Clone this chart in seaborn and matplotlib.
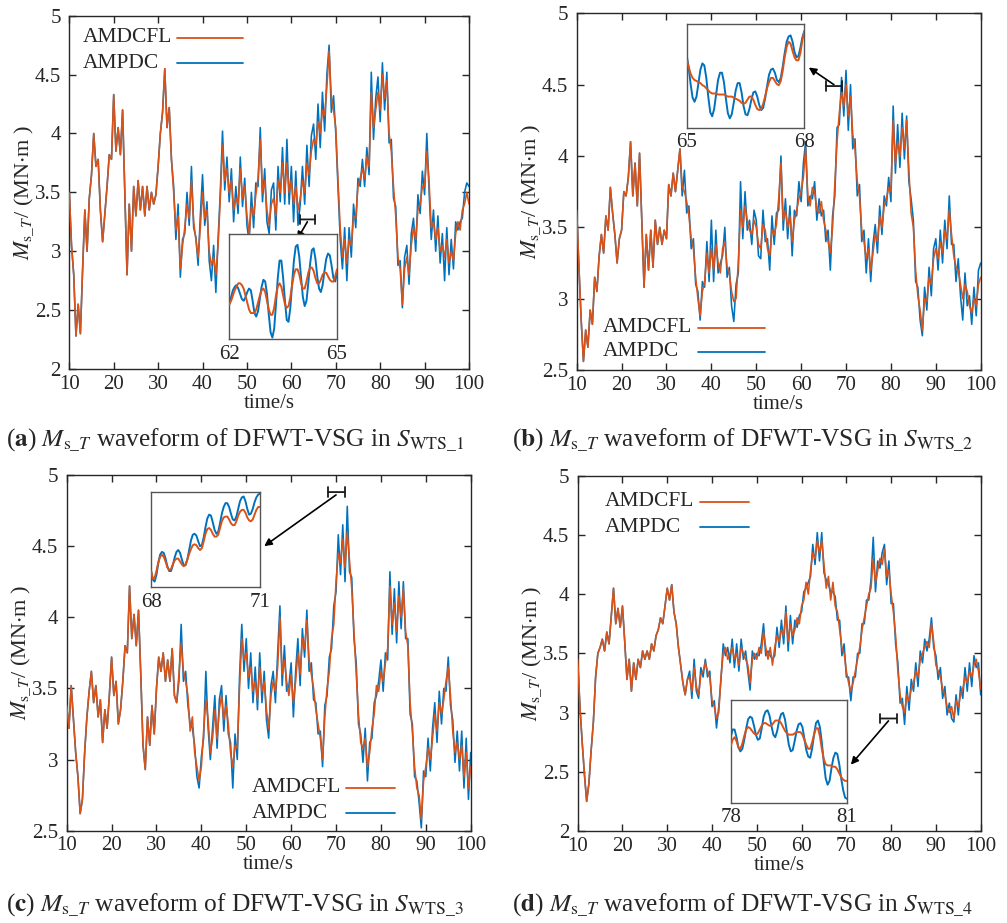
import numpy as np
import matplotlib
matplotlib.use("Agg")
import matplotlib.pyplot as plt
from matplotlib.lines import Line2D
import seaborn as sns
from matplotlib.ticker import FuncFormatter

# ---------------- data ----------------
time = np.arange(10.0, 100.01, 0.5)

a_amdcfl = [3.50, 3.05, 2.80, 2.28, 2.55, 2.30, 2.85, 3.35, 3.00, 3.45,
            3.65, 4.00, 3.72, 3.78, 3.35, 3.08, 3.32, 3.55, 3.82, 3.78,
            4.33, 3.85, 4.05, 3.82, 4.20, 3.50, 2.80, 3.40, 3.00, 3.55,
            3.30, 3.60, 3.35, 3.55, 3.30, 3.55, 3.35, 3.50, 3.40, 3.48,
            3.72, 4.00, 4.18, 4.55, 4.05, 4.22, 3.78, 3.50, 3.18, 3.30,
            2.85, 3.05, 3.20, 3.40, 3.28, 3.60, 3.25, 3.10, 2.95, 3.20,
            3.50, 3.28, 3.35, 3.00, 2.88, 2.95, 2.80, 3.05, 3.45, 3.90,
            3.60, 3.70, 3.50, 3.60, 3.35, 3.45, 3.40, 3.70, 3.45, 3.55,
            3.30, 3.15, 3.38, 3.30, 3.48, 3.62, 3.95, 3.50, 3.60, 3.35,
            3.22, 3.40, 3.45, 3.30, 3.60, 3.50, 3.75, 3.50, 3.75, 3.50,
            3.60, 3.40, 3.55, 3.35, 3.45, 3.60, 3.50, 3.75, 3.65, 3.85,
            3.95, 3.90, 4.10, 4.00, 4.20, 4.15, 4.40, 4.70, 4.30, 4.20,
            4.05, 3.60, 3.20, 2.95, 3.10, 2.90, 3.10, 3.05, 3.30, 3.28,
            3.55, 3.62, 3.70, 3.62, 3.80, 3.72, 4.35, 4.05, 4.20, 4.35,
            4.20, 4.50, 4.30, 4.45, 4.00, 3.85, 3.55, 3.30, 2.95, 2.85,
            2.55, 2.85, 2.95, 2.80, 3.05, 3.20, 3.10, 3.35, 3.40, 3.55,
            3.55, 3.85, 3.60, 3.20, 3.25, 3.10, 3.20, 3.00, 3.05, 2.95,
            3.10, 2.90, 3.00, 2.92, 3.15, 3.25, 3.18, 3.35, 3.40, 3.50,
            3.40]
a_ampdc = [3.50, 3.05, 2.80, 2.28, 2.55, 2.30, 2.85, 3.35, 3.00, 3.45,
           3.65, 4.00, 3.72, 3.78, 3.35, 3.08, 3.32, 3.55, 3.82, 3.78,
           4.33, 3.85, 4.05, 3.82, 4.20, 3.50, 2.80, 3.40, 3.00, 3.55,
           3.30, 3.60, 3.35, 3.55, 3.30, 3.55, 3.35, 3.50, 3.40, 3.48,
           3.72, 4.00, 4.18, 4.55, 4.05, 4.22, 3.78, 3.55, 3.10, 3.40,
           2.78, 3.10, 3.15, 3.50, 3.22, 3.72, 3.20, 3.12, 2.88, 3.30,
           3.65, 3.22, 3.42, 2.92, 2.75, 3.05, 2.65, 3.10, 3.50, 4.02,
           3.52, 3.80, 3.42, 3.70, 3.25, 3.55, 3.32, 3.80, 3.38, 3.62,
           3.22, 3.08, 3.50, 3.20, 3.58, 3.55, 4.05, 3.42, 3.70, 3.25,
           3.15, 3.52, 3.58, 3.18, 3.72, 3.42, 3.88, 3.40, 3.95, 3.40,
           3.72, 3.25, 3.68, 3.22, 3.40, 3.72, 3.40, 3.90, 3.55, 3.98,
           4.08, 3.78, 4.25, 3.88, 4.35, 4.02, 4.50, 4.75, 4.18, 4.32,
           4.00, 3.55, 3.10, 2.85, 3.20, 2.75, 3.20, 2.95, 3.40, 3.20,
           3.62, 3.55, 3.78, 3.55, 3.88, 3.65, 4.52, 3.95, 4.30, 4.48,
           4.10, 4.60, 4.20, 4.52, 3.92, 3.95, 3.45, 3.38, 2.88, 2.92,
           2.52, 2.95, 3.05, 2.72, 3.15, 3.28, 3.00, 3.48, 3.32, 3.68,
           3.48, 4.00, 3.52, 3.10, 3.35, 3.00, 3.30, 2.90, 3.15, 2.75,
           3.20, 2.80, 3.10, 2.85, 3.25, 3.18, 3.25, 3.28, 3.50, 3.58,
           3.55]

b_amdcfl = [3.62, 3.22, 2.85, 2.56, 2.78, 2.66, 2.92, 2.82, 3.15, 3.05,
            3.30, 3.45, 3.32, 3.58, 3.48, 3.78, 3.60, 3.45, 3.25, 3.42,
            3.48, 3.75, 3.72, 3.85, 4.10, 3.72, 3.95, 3.65, 4.02, 3.55,
            3.08, 3.45, 3.20, 3.48, 3.22, 3.55, 3.38, 3.50, 3.38, 3.48,
            3.42, 3.80, 3.72, 3.88, 3.75, 3.90, 4.05, 3.78, 3.75, 3.68,
            3.58, 3.42, 3.35, 3.15, 3.00, 2.88, 3.05, 3.12, 3.32, 3.18,
            3.35, 3.20, 3.38, 3.25, 3.18, 3.35, 3.40, 3.22, 3.18, 3.05,
            2.98, 3.00, 3.25, 3.62, 3.50, 3.65, 3.55, 3.48, 3.45, 3.55,
            3.50, 3.38, 3.35, 3.52, 3.48, 3.35, 3.30, 3.48, 3.45, 3.52,
            3.70, 3.95, 3.55, 3.62, 3.50, 3.58, 3.40, 3.55, 3.62, 3.70,
            3.75, 3.85, 4.05, 3.72, 3.65, 3.78, 3.75, 3.62, 3.60, 3.68,
            3.55, 3.48, 3.40, 3.32, 3.50, 3.80, 4.10, 4.30, 4.45, 4.35,
            4.50, 4.28, 4.42, 4.15, 4.05, 3.82, 3.72, 3.48, 3.40, 3.28,
            3.35, 3.20, 3.32, 3.45, 3.40, 3.58, 3.50, 3.65, 3.70, 3.78,
            3.75, 4.25, 3.95, 4.10, 4.00, 4.20, 4.05, 4.25, 3.90, 3.60,
            3.50, 3.20, 3.02, 2.92, 2.78, 3.00, 2.98, 3.15, 3.10, 3.28,
            3.35, 3.28, 3.40, 3.32, 3.48, 3.42, 3.62, 3.45, 3.30, 3.22,
            3.20, 3.10, 3.00, 3.10, 3.05, 2.95, 2.90, 3.00, 2.95, 3.10,
            3.15]
b_ampdc = [3.62, 3.22, 2.85, 2.56, 2.78, 2.66, 2.92, 2.82, 3.15, 3.05,
           3.30, 3.45, 3.32, 3.58, 3.48, 3.78, 3.60, 3.45, 3.25, 3.42,
           3.48, 3.75, 3.72, 3.85, 4.10, 3.72, 3.95, 3.65, 4.02, 3.55,
           3.08, 3.45, 3.20, 3.48, 3.22, 3.55, 3.38, 3.50, 3.38, 3.48,
           3.42, 3.80, 3.72, 3.88, 3.75, 3.90, 4.05, 3.72, 3.90, 3.60,
           3.65, 3.35, 3.42, 3.10, 3.05, 2.85, 3.12, 3.08, 3.40, 3.12,
           3.55, 3.12, 3.48, 3.18, 3.25, 3.30, 3.50, 3.15, 3.22, 2.95,
           2.84, 3.10, 3.18, 3.82, 3.42, 3.75, 3.48, 3.55, 3.38, 3.62,
           3.55, 3.30, 3.28, 3.62, 3.40, 3.42, 3.20, 3.58, 3.38, 3.60,
           3.62, 4.00, 3.48, 3.70, 3.42, 3.65, 3.30, 3.62, 3.58, 3.82,
           3.68, 3.95, 4.10, 3.65, 3.72, 3.70, 3.82, 3.55, 3.70, 3.58,
           3.62, 3.40, 3.48, 3.20, 3.58, 3.72, 4.20, 4.22, 4.55, 4.28,
           4.60, 4.18, 4.50, 4.05, 4.12, 3.72, 3.80, 3.40, 3.48, 3.18,
           3.42, 3.12, 3.38, 3.52, 3.32, 3.65, 3.45, 3.72, 3.65, 3.85,
           3.68, 4.35, 3.88, 4.22, 3.92, 4.30, 3.98, 4.28, 3.82, 3.70,
           3.55, 3.12, 3.08, 2.85, 2.74, 3.08, 2.92, 3.22, 3.02, 3.35,
           3.42, 3.20, 3.48, 3.25, 3.55, 3.35, 3.72, 3.38, 3.38, 3.12,
           3.28, 3.02, 2.85, 3.18, 2.95, 3.02, 2.82, 3.08, 2.88, 3.20,
           3.25]

c_amdcfl = [3.38, 3.22, 3.52, 3.28, 3.05, 2.88, 2.62, 2.72, 3.05, 3.30,
            3.48, 3.62, 3.40, 3.52, 3.30, 3.42, 3.12, 3.35, 3.22, 3.45,
            3.72, 3.45, 3.55, 3.25, 3.35, 3.55, 3.80, 3.75, 4.22, 3.85,
            4.02, 3.80, 4.05, 3.60, 3.10, 2.93, 3.30, 3.10, 3.38, 3.18,
            3.50, 3.72, 3.62, 3.75, 3.55, 3.70, 3.55, 3.78, 3.45, 3.40,
            3.60, 3.82, 3.62, 3.55, 3.45, 3.20, 3.30, 3.05, 2.95, 2.85,
            2.95, 3.20, 3.42, 3.28, 3.05, 3.15, 3.35, 3.15, 3.35, 3.45,
            3.28, 3.38, 3.25, 3.05, 2.95, 3.10, 3.08, 3.50, 3.85, 3.70,
            3.75, 3.58, 3.65, 3.48, 3.55, 3.42, 3.65, 3.48, 3.55, 3.35,
            3.22, 3.45, 3.55, 3.48, 3.65, 4.00, 3.60, 3.70, 3.55, 3.45,
            3.60, 3.40, 3.55, 3.75, 3.60, 3.85, 3.78, 3.98, 3.70, 3.60,
            3.50, 3.35, 3.25, 3.15, 3.00, 3.30, 3.50, 3.62, 3.85, 3.95,
            4.25, 4.45, 4.38, 4.55, 4.35, 4.60, 4.40, 4.20, 3.90, 3.60,
            3.32, 3.12, 3.08, 3.15, 2.95, 3.05, 3.22, 3.32, 3.52, 3.48,
            3.62, 3.55, 3.68, 3.78, 4.22, 3.95, 4.10, 3.90, 4.15, 4.00,
            4.20, 3.90, 3.80, 3.40, 3.20, 2.95, 2.80, 2.75, 2.58, 2.85,
            2.95, 3.08, 3.00, 3.15, 3.32, 3.20, 3.40, 3.32, 3.42, 3.55,
            3.65, 3.45, 3.20, 3.05, 3.12, 3.00, 3.10, 2.88, 3.05, 2.80,
            2.95]
c_ampdc = [3.38, 3.22, 3.52, 3.28, 3.05, 2.88, 2.62, 2.72, 3.05, 3.30,
           3.48, 3.62, 3.40, 3.52, 3.30, 3.42, 3.12, 3.35, 3.22, 3.45,
           3.72, 3.45, 3.55, 3.25, 3.35, 3.55, 3.80, 3.75, 4.22, 3.85,
           4.02, 3.80, 4.05, 3.60, 3.10, 2.93, 3.30, 3.10, 3.38, 3.18,
           3.50, 3.72, 3.62, 3.75, 3.55, 3.70, 3.55, 3.78, 3.45, 3.40,
           3.55, 3.95, 3.55, 3.62, 3.38, 3.25, 3.22, 3.10, 2.88, 2.80,
           3.02, 3.15, 3.62, 3.22, 3.00, 3.22, 3.45, 3.08, 3.42, 3.52,
           3.20, 3.45, 3.18, 3.12, 2.80, 3.18, 3.00, 3.58, 3.95, 3.62,
           3.85, 3.50, 3.75, 3.40, 3.65, 3.35, 3.75, 3.40, 3.62, 3.28,
           3.15, 3.52, 3.62, 3.40, 3.75, 4.08, 3.52, 3.80, 3.48, 3.52,
           3.68, 3.30, 3.62, 3.85, 3.52, 3.92, 3.72, 4.05, 3.62, 3.68,
           3.42, 3.40, 3.18, 3.20, 2.95, 3.38, 3.45, 3.72, 3.78, 4.08,
           4.18, 4.58, 4.30, 4.65, 4.25, 4.78, 4.32, 4.28, 3.85, 3.68,
           3.25, 3.18, 2.98, 3.22, 2.85, 3.12, 3.15, 3.40, 3.45, 3.55,
           3.70, 3.48, 3.75, 3.70, 4.32, 3.88, 4.20, 3.82, 4.25, 3.92,
           4.25, 3.85, 3.85, 3.32, 3.25, 2.88, 2.85, 2.70, 2.52, 2.92,
           2.88, 3.15, 2.92, 3.22, 3.40, 3.12, 3.48, 3.25, 3.50, 3.48,
           3.72, 3.38, 3.28, 2.98, 3.20, 2.92, 3.20, 2.80, 3.15, 2.72,
           3.05]

d_amdcfl = [3.45, 3.05, 2.75, 2.48, 2.25, 2.40, 2.68, 2.92, 3.30, 3.50,
            3.55, 3.62, 3.52, 3.68, 3.58, 3.82, 4.05, 3.75, 3.88, 3.72,
            3.90, 3.60, 3.28, 3.45, 3.18, 3.42, 3.28, 3.45, 3.38, 3.52,
            3.45, 3.52, 3.45, 3.58, 3.52, 3.65, 3.70, 3.80, 3.75, 3.90,
            4.05, 3.95, 4.08, 3.85, 3.75, 3.55, 3.40, 3.25, 3.15, 3.28,
            3.30, 3.18, 3.38, 3.22, 3.15, 3.32, 3.35, 3.42, 3.35, 3.30,
            3.10, 3.05, 2.95, 3.00, 3.30, 3.50, 3.55, 3.45, 3.50, 3.55,
            3.45, 3.50, 3.40, 3.55, 3.50, 3.45, 3.40, 3.25, 3.45, 3.50,
            3.45, 3.55, 3.50, 3.68, 3.55, 3.45, 3.55, 3.40, 3.55, 3.65,
            3.60, 3.70, 3.65, 3.85, 3.60, 3.75, 3.65, 3.70, 3.80, 3.75,
            3.90, 3.95, 4.10, 4.00, 4.20, 4.35, 4.30, 4.45, 4.35, 4.45,
            4.25, 4.05, 4.15, 3.95, 4.10, 3.90, 3.85, 3.70, 3.55, 3.50,
            3.35, 3.25, 3.18, 3.25, 3.35, 3.45, 3.55, 3.70, 3.80, 3.90,
            4.00, 4.05, 4.30, 4.10, 4.20, 4.30, 4.25, 4.38, 4.15, 4.20,
            4.00, 3.85, 3.65, 3.35, 3.15, 3.05, 3.00, 3.15, 3.10, 3.20,
            3.25, 3.35, 3.30, 3.45, 3.50, 3.55, 3.60, 3.55, 3.75, 3.60,
            3.40, 3.35, 3.30, 3.20, 3.15, 3.05, 3.00, 3.05, 2.95, 3.10,
            3.05, 3.15, 3.20, 3.30, 3.25, 3.35, 3.30, 3.40, 3.45, 3.35,
            3.20]
d_ampdc = [3.45, 3.05, 2.75, 2.48, 2.25, 2.40, 2.68, 2.92, 3.30, 3.50,
           3.55, 3.62, 3.52, 3.68, 3.58, 3.82, 4.05, 3.75, 3.88, 3.72,
           3.90, 3.60, 3.28, 3.45, 3.18, 3.42, 3.28, 3.45, 3.38, 3.52,
           3.45, 3.52, 3.45, 3.58, 3.52, 3.65, 3.70, 3.80, 3.75, 3.90,
           4.05, 3.95, 4.08, 3.85, 3.75, 3.55, 3.40, 3.25, 3.15, 3.28,
           3.35, 3.12, 3.45, 3.18, 3.12, 3.38, 3.30, 3.45, 3.30, 3.35,
           3.05, 3.10, 2.87, 3.05, 3.28, 3.58, 3.48, 3.55, 3.42, 3.62,
           3.38, 3.58, 3.35, 3.62, 3.45, 3.52, 3.35, 3.19, 3.52, 3.45,
           3.50, 3.48, 3.58, 3.75, 3.48, 3.52, 3.48, 3.45, 3.48, 3.72,
           3.55, 3.78, 3.58, 3.90, 3.52, 3.82, 3.58, 3.78, 3.72, 3.82,
           3.85, 4.02, 4.05, 4.10, 4.15, 4.42, 4.25, 4.52, 4.28, 4.52,
           4.18, 4.12, 4.08, 4.02, 4.02, 3.98, 3.78, 3.78, 3.48, 3.58,
           3.30, 3.30, 3.10, 3.30, 3.30, 3.50, 3.50, 3.75, 3.75, 3.95,
           3.95, 4.12, 4.48, 4.02, 4.28, 4.22, 4.35, 4.42, 4.08, 4.28,
           3.92, 3.92, 3.58, 3.42, 3.08, 3.12, 2.90, 3.22, 3.02, 3.28,
           3.18, 3.42, 3.22, 3.52, 3.42, 3.62, 3.52, 3.62, 3.80, 3.55,
           3.48, 3.28, 3.38, 3.12, 3.22, 2.98, 3.08, 2.95, 2.92, 3.15,
           2.98, 3.22, 3.12, 3.38, 3.18, 3.42, 3.22, 3.48, 3.38, 3.42,
           3.15]

# zoomed windows (0.05 s resolution)
a_zoom_t = np.round(np.arange(62.0, 65.001, 0.05), 2)
a_zoom_amdcfl = [3.40, 3.42, 3.45, 3.48, 3.50, 3.52, 3.52, 3.51, 3.49, 3.45,
                 3.41, 3.37, 3.35, 3.35, 3.35, 3.37, 3.41, 3.45, 3.48, 3.49,
                 3.47, 3.42, 3.37, 3.34, 3.34, 3.38, 3.45, 3.50, 3.52, 3.50,
                 3.45, 3.40, 3.38, 3.39, 3.44, 3.51, 3.57, 3.60, 3.60, 3.57,
                 3.52, 3.49, 3.49, 3.53, 3.58, 3.61, 3.61, 3.59, 3.55, 3.52,
                 3.52, 3.54, 3.57, 3.58, 3.58, 3.56, 3.54, 3.53, 3.53, 3.56,
                 3.60]
a_zoom_ampdc = [3.40, 3.44, 3.48, 3.50, 3.51, 3.49, 3.46, 3.43, 3.42, 3.44,
                3.47, 3.49, 3.48, 3.42, 3.35, 3.33, 3.36, 3.43, 3.50, 3.54,
                3.53, 3.46, 3.34, 3.24, 3.21, 3.26, 3.40, 3.55, 3.65, 3.65,
                3.55, 3.42, 3.31, 3.30, 3.38, 3.52, 3.65, 3.73, 3.74, 3.67,
                3.55, 3.44, 3.39, 3.42, 3.52, 3.63, 3.71, 3.72, 3.66, 3.56,
                3.49, 3.47, 3.51, 3.59, 3.66, 3.69, 3.68, 3.62, 3.55, 3.53,
                3.58]

b_zoom_t = np.round(np.arange(65.0, 68.001, 0.05), 2)
b_zoom_amdcfl = [4.05, 3.99, 3.92, 3.88, 3.86, 3.85, 3.84, 3.83, 3.81, 3.80,
                 3.78, 3.76, 3.74, 3.73, 3.73, 3.73, 3.72, 3.72, 3.72, 3.72,
                 3.71, 3.70, 3.70, 3.70, 3.69, 3.68, 3.67, 3.66, 3.64, 3.63,
                 3.64, 3.67, 3.70, 3.70, 3.67, 3.62, 3.58, 3.57, 3.58, 3.63,
                 3.70, 3.78, 3.84, 3.88, 3.88, 3.85, 3.82, 3.81, 3.85, 3.95,
                 4.08, 4.18, 4.23, 4.21, 4.14, 4.08, 4.05, 4.05, 4.12, 4.24,
                 4.33]
b_zoom_ampdc = [4.10, 3.98, 3.82, 3.69, 3.65, 3.70, 3.83, 3.96, 4.02, 4.00,
                3.88, 3.70, 3.55, 3.51, 3.58, 3.72, 3.86, 3.93, 3.93, 3.84,
                3.68, 3.54, 3.49, 3.53, 3.64, 3.76, 3.83, 3.83, 3.74, 3.61,
                3.53, 3.52, 3.58, 3.67, 3.74, 3.75, 3.70, 3.62, 3.57, 3.59,
                3.68, 3.80, 3.91, 3.96, 3.97, 3.93, 3.86, 3.84, 3.88, 3.99,
                4.12, 4.23, 4.28, 4.29, 4.23, 4.13, 4.08, 4.09, 4.17, 4.27,
                4.33]

c_zoom_t = np.round(np.arange(68.0, 71.001, 0.05), 2)
c_zoom_amdcfl = [3.97, 3.89, 3.90, 3.97, 4.06, 4.12, 4.14, 4.12, 4.07, 4.01,
                 3.98, 3.99, 4.04, 4.08, 4.10, 4.10, 4.07, 4.04, 4.02, 4.04,
                 4.09, 4.15, 4.20, 4.24, 4.25, 4.24, 4.21, 4.19, 4.21, 4.28,
                 4.36, 4.41, 4.42, 4.40, 4.36, 4.33, 4.33, 4.35, 4.42, 4.49,
                 4.53, 4.54, 4.54, 4.51, 4.47, 4.45, 4.45, 4.49, 4.55, 4.59,
                 4.61, 4.61, 4.58, 4.53, 4.50, 4.49, 4.51, 4.56, 4.61, 4.64,
                 4.64]
c_zoom_ampdc = [3.98, 3.88, 3.86, 3.93, 4.05, 4.14, 4.17, 4.16, 4.10, 4.02,
                3.97, 3.97, 4.03, 4.11, 4.17, 4.19, 4.16, 4.09, 4.03, 4.03,
                4.09, 4.19, 4.29, 4.35, 4.36, 4.34, 4.28, 4.23, 4.24, 4.32,
                4.43, 4.52, 4.56, 4.55, 4.48, 4.40, 4.36, 4.38, 4.47, 4.57,
                4.64, 4.68, 4.68, 4.64, 4.57, 4.51, 4.50, 4.54, 4.62, 4.70,
                4.74, 4.75, 4.70, 4.62, 4.56, 4.57, 4.62, 4.69, 4.74, 4.77,
                4.78]

d_zoom_t = np.round(np.arange(78.0, 81.001, 0.05), 2)
d_zoom_amdcfl = [4.24, 4.29, 4.31, 4.28, 4.23, 4.22, 4.26, 4.32, 4.37, 4.39,
                 4.38, 4.36, 4.34, 4.33, 4.34, 4.37, 4.40, 4.42, 4.42, 4.41,
                 4.40, 4.40, 4.42, 4.44, 4.44, 4.44, 4.42, 4.39, 4.36, 4.34,
                 4.33, 4.33, 4.33, 4.34, 4.35, 4.35, 4.35, 4.33, 4.29, 4.25,
                 4.22, 4.22, 4.27, 4.33, 4.38, 4.38, 4.32, 4.22, 4.14, 4.10,
                 4.09, 4.09, 4.09, 4.08, 4.08, 4.06, 4.03, 4.00, 3.98, 3.97,
                 3.97]
d_zoom_ampdc = [4.31, 4.37, 4.37, 4.31, 4.23, 4.20, 4.22, 4.29, 4.38, 4.45,
                4.47, 4.46, 4.40, 4.33, 4.29, 4.30, 4.38, 4.47, 4.51, 4.52,
                4.48, 4.40, 4.33, 4.31, 4.36, 4.44, 4.49, 4.50, 4.45, 4.35,
                4.25, 4.20, 4.21, 4.28, 4.36, 4.41, 4.42, 4.39, 4.30, 4.21,
                4.16, 4.15, 4.22, 4.33, 4.42, 4.44, 4.39, 4.27, 4.12, 3.99,
                3.94, 3.97, 4.07, 4.15, 4.19, 4.18, 4.10, 3.99, 3.90, 3.84,
                3.83]

x_ticks = [10, 20, 30, 40, 50, 60, 70, 80, 90, 100]
series_names = ["AMDCFL", "AMPDC"]
panel_letters = ["a", "b", "c", "d"]
region_labels = ["WTS\\_1", "WTS\\_2", "WTS\\_3", "WTS\\_4"]

# ---------------- style ----------------
sns.set_theme(style="ticks")
plt.rcParams["font.family"] = ["Liberation Serif", "DejaVu Serif"]
plt.rcParams["mathtext.fontset"] = "stix"
plt.rcParams["axes.linewidth"] = 1.0
plt.rcParams["axes.edgecolor"] = "#262626"
plt.rcParams["xtick.color"] = "#262626"
plt.rcParams["ytick.color"] = "#262626"
plt.rcParams["text.color"] = "#262626"

ORANGE = "#D95319"
BLUE = "#0072BD"
W, H = 1007, 923
fig = plt.figure(figsize=(W / 100, H / 100), dpi=100)


def px_rect(x0, y0, x1, y1):
    """Figure-fraction rectangle from pixel corners (top-left origin)."""
    return [x0 / W, 1 - y1 / H, (x1 - x0) / W, (y1 - y0) / H]


def fx(x):
    return x / W


def fy(y):
    return 1 - y / H


panels = [
    dict(rect=px_rect(69.3, 15.7, 469.0, 369.0), ylim=(2, 5),
         y_ticks=[2, 2.5, 3, 3.5, 4, 4.5, 5],
         main=(a_amdcfl, a_ampdc), zoom=(a_zoom_t, a_zoom_amdcfl, a_zoom_ampdc),
         zrect=px_rect(229.3, 234.3, 337.0, 339.3), zylim=(3.2, 3.8),
         bracket=(62.0, 65.3, 3.27), arrow=((63.6, 3.25), (61.3, 3.10)),
         key=dict(tx=83, rows=(38, 63), lx=(177, 243))),
    dict(rect=px_rect(576.7, 13.3, 980.7, 370.0), ylim=(2.5, 5),
         y_ticks=[2.5, 3, 3.5, 4, 4.5, 5],
         main=(b_amdcfl, b_ampdc), zoom=(b_zoom_t, b_zoom_amdcfl, b_zoom_ampdc),
         zrect=px_rect(686.7, 24.0, 804.3, 127.7), zylim=(3.4, 4.4),
         bracket=(65.5, 69.1, 4.49), arrow=((67.3, 4.50), (61.7, 4.62)),
         key=dict(tx=603, rows=(328, 352), lx=(698, 765))),
    dict(rect=px_rect(66.7, 475.0, 470.7, 830.7), ylim=(2.5, 5),
         y_ticks=[2.5, 3, 3.5, 4, 4.5, 5],
         main=(c_amdcfl, c_ampdc), zoom=(c_zoom_t, c_zoom_amdcfl, c_zoom_ampdc),
         zrect=px_rect(151.0, 491.7, 260.0, 587.3), zylim=(3.8, 4.8),
         bracket=(68.2, 71.9, 4.88), arrow=((70.0, 4.86), (54.0, 4.50)),
         key=dict(tx=252, rows=(788, 813), lx=(346, 395))),
    dict(rect=px_rect(577.7, 475.7, 980.7, 831.0), ylim=(2, 5),
         y_ticks=[2, 2.5, 3, 3.5, 4, 4.5, 5],
         main=(d_amdcfl, d_ampdc), zoom=(d_zoom_t, d_zoom_amdcfl, d_zoom_ampdc),
         zrect=px_rect(730.7, 700.0, 847.0, 802.7), zylim=(3.8, 4.6),
         bracket=(77.6, 81.2, 2.95), arrow=((79.4, 2.93), (71.0, 2.56)),
         key=dict(tx=605, rows=(502, 527), lx=(700, 749))),
]

fmt = FuncFormatter(lambda v, _: f"{v:g}")
ylabel = r"$M_{\mathrm{s}\_T}$/ (MN$\cdot$m )"

for i, p in enumerate(panels):
    ax = fig.add_axes(p["rect"])
    orange_vals, blue_vals = p["main"]
    sns.lineplot(x=time, y=blue_vals, ax=ax, color=BLUE, lw=1.15,
                 estimator=None, sort=False, zorder=2)
    sns.lineplot(x=time, y=orange_vals, ax=ax, color=ORANGE, lw=1.15,
                 estimator=None, sort=False, zorder=3)
    ax.set_xlim(10, 100)
    ax.set_ylim(*p["ylim"])
    ax.set_xticks(x_ticks)
    ax.set_yticks(p["y_ticks"])
    ax.yaxis.set_major_formatter(fmt)
    ax.tick_params(direction="in", length=5, width=1.0, top=True, right=True,
                   labelsize=15)
    ax.tick_params(axis="y", pad=6)
    ax.tick_params(axis="x", pad=4)
    for s in ax.spines.values():
        s.set_visible(True)
    ax.set_xlabel("time/s", fontsize=15, labelpad=0)
    ax.set_ylabel(ylabel, fontsize=16, labelpad=0)

    # series key: names on the left, line samples on the right
    k = p["key"]
    for name, colour, ry in zip(series_names, (ORANGE, BLUE), k["rows"]):
        fig.text(fx(k["tx"]), fy(ry), name, fontsize=15.5,
                 ha="left", va="center")
        fig.add_artist(Line2D([fx(k["lx"][0]), fx(k["lx"][1])],
                              [fy(ry), fy(ry)], transform=fig.transFigure,
                              color=colour, lw=1.3))

    # bracket marking the zoomed window and the pointer to the inset
    x0, x1, yb = p["bracket"]
    ax.annotate("", xy=(x0, yb), xytext=(x1, yb),
                arrowprops=dict(arrowstyle="|-|", lw=1.3, color="#1a1a1a",
                                mutation_scale=3.5, shrinkA=0, shrinkB=0))
    (sx, sy), (ex, ey) = p["arrow"]
    ax.annotate("", xy=(ex, ey), xytext=(sx, sy),
                arrowprops=dict(arrowstyle="-|>", lw=1.2, color="black",
                                mutation_scale=11, shrinkA=0, shrinkB=0))

    # inset with the zoomed waveform
    zt, zo, zb = p["zoom"]
    axin = fig.add_axes(p["zrect"])
    sns.lineplot(x=zt, y=zb, ax=axin, color=BLUE, lw=1.4,
                 estimator=None, sort=False, zorder=2)
    sns.lineplot(x=zt, y=zo, ax=axin, color=ORANGE, lw=1.4,
                 estimator=None, sort=False, zorder=3)
    axin.set_xlim(zt[0], zt[-1])
    axin.set_ylim(*p["zylim"])
    axin.set_xticks([zt[0], zt[-1]])
    axin.set_xticklabels([f"{zt[0]:g}", f"{zt[-1]:g}"])
    axin.set_yticks([])
    axin.tick_params(length=0, labelsize=15, pad=4)
    axin.set_xlabel("")
    axin.set_ylabel("")
    for s in axin.spines.values():
        s.set_visible(True)
        s.set_color("#555555")
        s.set_linewidth(1.0)

# captions
cap_pos = [(6, 440), (512, 440), (6, 905), (512, 905)]
for letter, reg, (cx, cy) in zip(panel_letters, region_labels, cap_pos):
    txt = (r"($\mathbf{" + letter + r"}$) $M_{\mathrm{s}\_T}$ waveform of "
           r"DFWT-VSG in $S_{\mathrm{" + reg + r"}}$")
    fig.text(fx(cx), fy(cy), txt, fontsize=18.3, ha="left", va="center")

fig.savefig("out.png", dpi=100)
